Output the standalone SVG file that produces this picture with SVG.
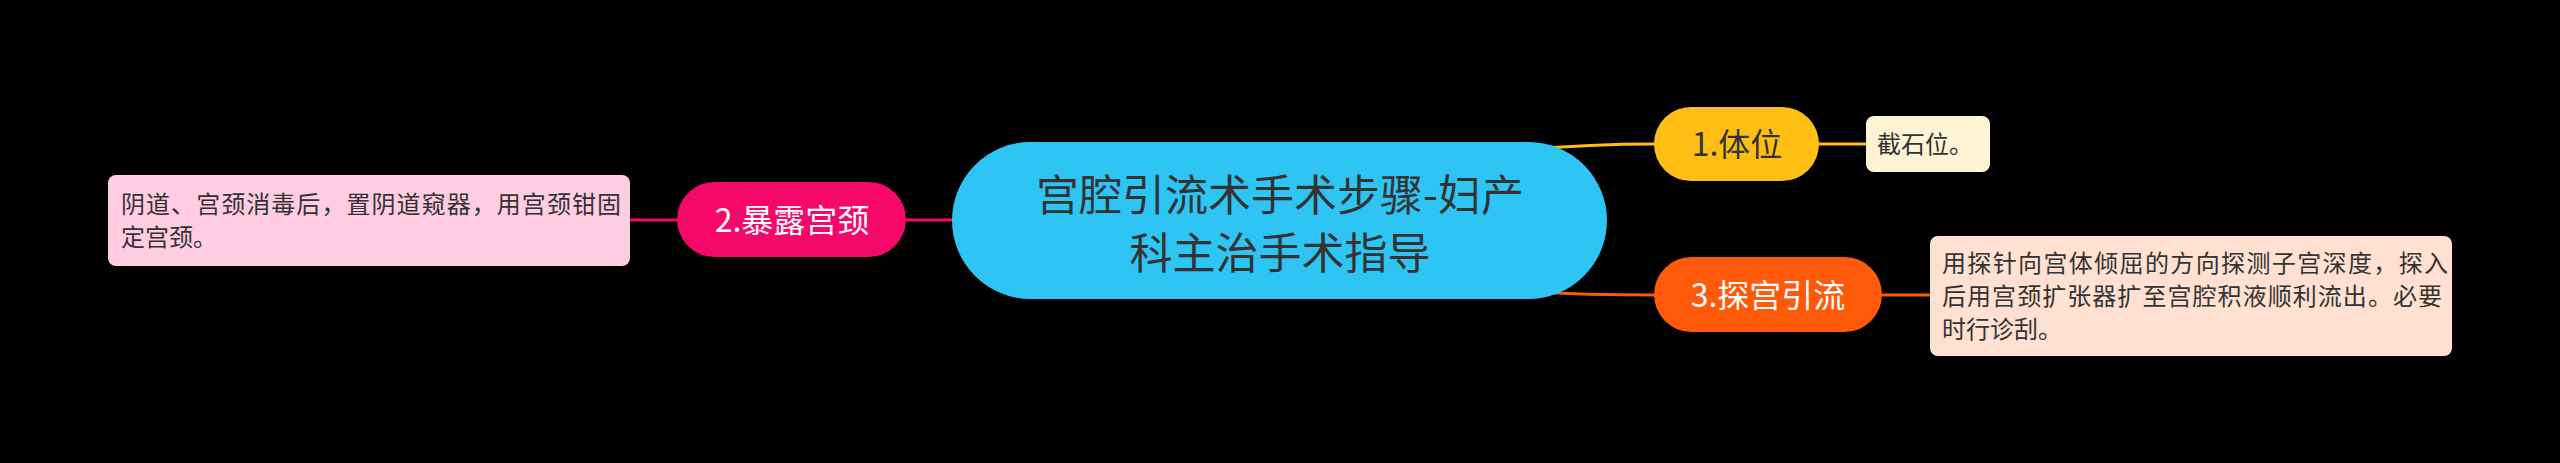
<svg xmlns="http://www.w3.org/2000/svg" width="2560" height="463" viewBox="0 0 2560 463">
<style>
text{font-family:"Noto Sans CJK SC","Noto Sans",sans-serif;}
.conn{fill:none;stroke-width:3;stroke-linecap:round;}
.root{font-size:43px;fill:#333333;text-anchor:middle;}
.br{font-size:32px;text-anchor:middle;}
.leaf{font-size:24px;fill:#333333;}
</style>
<rect x="0" y="0" width="2560" height="463" fill="#000000"/>
<g id="connectors">
<path class="conn" stroke="#FFBE14" d="M1500,152 C1560,146 1600,144 1654,144"/>
<path class="conn" stroke="#FF5A0A" d="M1500,290 C1560,294 1600,295 1654,295"/>
<path class="conn" stroke="#F5086A" d="M905,220 L1000,220"/>
<path class="conn" stroke="#F5086A" d="M629,220 L677,220"/>
<path class="conn" stroke="#FFBE14" d="M1818,144 L1867,144"/>
<path class="conn" stroke="#FF5A0A" d="M1882,295 L1931,295"/>
</g>
<g id="root">
<rect x="952" y="142" width="655" height="157" rx="78.5" fill="#2EC4F3"/>
<text class="root" x="1280" y="211">宫腔引流术手术步骤-妇产</text>
<text class="root" x="1280" y="269">科主治手术指导</text>
</g>
<g id="b1">
<rect x="1654" y="107" width="165" height="74" rx="37" fill="#FFBE14"/>
<text class="br" x="1737" y="156" fill="#333333">1.体位</text>
</g>
<g id="b1leaf">
<rect x="1866" y="116" width="124" height="56" rx="8" fill="#FFF3D6"/>
<text class="leaf" x="1877" y="153">截石位。</text>
</g>
<g id="b2">
<rect x="677" y="182" width="229" height="75" rx="37.5" fill="#F5086A"/>
<text class="br" x="792" y="232" fill="#FFFFFF">2.暴露宫颈</text>
</g>
<g id="b2leaf">
<rect x="108" y="175" width="522" height="91" rx="8" fill="#FFCCE2"/>
<text class="leaf" x="121" y="213" textLength="500" lengthAdjust="spacing">阴道、宫颈消毒后，置阴道窥器，用宫颈钳固</text>
<text class="leaf" x="121" y="246">定宫颈。</text>
</g>
<g id="b3">
<rect x="1654" y="257" width="228" height="75" rx="37.5" fill="#FF5A0A"/>
<text class="br" x="1768" y="307" fill="#FFFFFF">3.探宫引流</text>
</g>
<g id="b3leaf">
<rect x="1930" y="236" width="522" height="120" rx="8" fill="#FFE0D1"/>
<text class="leaf" x="1942" y="272" textLength="506" lengthAdjust="spacing">用探针向宫体倾屈的方向探测子宫深度，探入</text>
<text class="leaf" x="1942" y="305" textLength="500" lengthAdjust="spacing">后用宫颈扩张器扩至宫腔积液顺利流出。必要</text>
<text class="leaf" x="1942" y="338">时行诊刮。</text>
</g>
</svg>
